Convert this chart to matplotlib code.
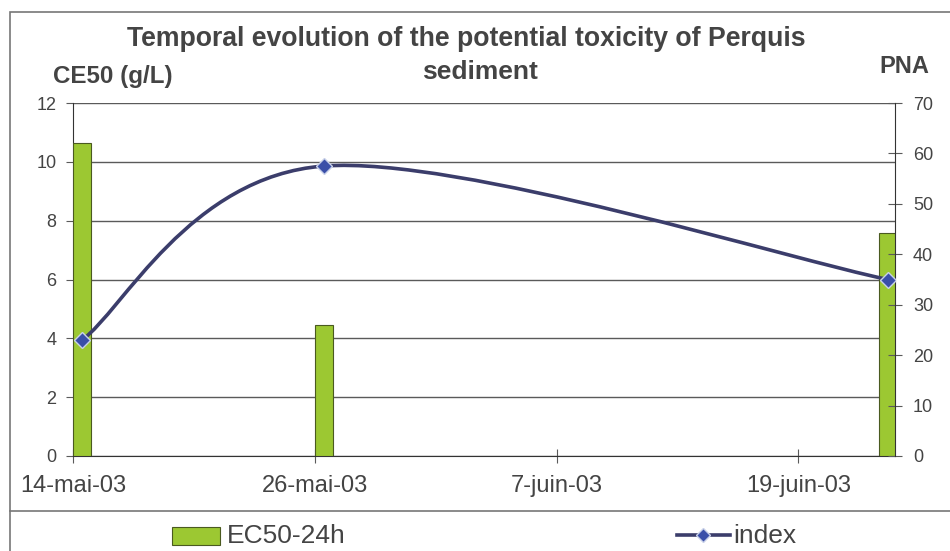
import datetime as dt
import matplotlib
matplotlib.use("Agg")
import matplotlib.pyplot as plt
import matplotlib.dates as mdates
from matplotlib.path import Path
from matplotlib.patches import PathPatch, Rectangle
from matplotlib.lines import Line2D
import numpy as np

plt.rcParams['font.family'] = ['Liberation Sans', 'DejaVu Sans']

# data
dates = [dt.date(2003, 5, 14), dt.date(2003, 5, 26), dt.date(2003, 6, 23)]
ec50 = [10.65, 4.45, 7.58]          # CE50 (g/L), left axis
index = [23, 57.5, 35]              # PNA, right axis
tick_dates = [dt.date(2003, 5, 14), dt.date(2003, 5, 26), dt.date(2003, 6, 7), dt.date(2003, 6, 19)]
tick_labels = ["14-mai-03", "26-mai-03", "7-juin-03", "19-juin-03"]

W, H = 950, 551
txt = "#444444"
grid_c = "#5a5a5a"
bar_c = "#9cc832"
line_c = "#3b3d6b"
mark_c = "#3a4fa8"


def fx(px):
    return px / W


def fy(py):
    return 1 - py / H


fig = plt.figure(figsize=(9.5, 5.51), dpi=100)
ax = fig.add_axes([fx(73), fy(456), (895 - 73) / W, (456 - 103) / H])
ax2 = ax.twinx()

# frame around the chart and legend separator
fig.add_artist(Rectangle((fx(10), -0.01), 1.0, fy(12) + 0.01, transform=fig.transFigure,
                         fill=False, lw=1.2, ec="#777777"))
fig.add_artist(Line2D([fx(10), 1], [fy(511)] * 2, transform=fig.transFigure, lw=1.2, color="#777777"))

x0 = mdates.date2num(dates[0])
xd = mdates.date2num(dates)
ax.bar(xd, ec50, width=0.9, align='edge', color=bar_c, edgecolor="#4a5a20", lw=0.8, zorder=3)

ax.set_xlim(x0, x0 + 40.8)
ax.set_ylim(0, 12)
ax.set_yticks(np.arange(0, 13, 2))
ax.yaxis.grid(True, color=grid_c, lw=1.0)
ax.set_axisbelow(True)
ax.set_xticks(mdates.date2num(tick_dates))
ax.set_xticklabels(tick_labels, fontsize=17, color=txt)
ax.tick_params(axis='x', direction='inout', length=10, color=grid_c, pad=9)
ax.tick_params(axis='y', direction='out', length=5, color=grid_c, labelsize=13, labelcolor=txt, pad=7)
ax.spines['top'].set_visible(False)
ax.spines['left'].set_color("#333333")
ax.spines['bottom'].set_color("#333333")
ax.spines['right'].set_visible(False)

ax2.set_ylim(0, 70)
ax2.set_yticks(np.arange(0, 71, 10))
ax2.tick_params(axis='y', direction='inout', length=10, color=grid_c, labelsize=13, labelcolor=txt, pad=8)
for s in ['top', 'left', 'bottom']:
    ax2.spines[s].set_visible(False)
ax2.spines['right'].set_color("#333333")

# smoothed line (Excel-style bezier through the points)
lx = xd + 0.45
pts = np.column_stack([lx, index])
verts = [tuple(pts[0])]
codes = [Path.MOVETO]
n = len(pts)
for i in range(n - 1):
    p_prev = pts[i - 1] if i > 0 else pts[i]
    p_next2 = pts[i + 2] if i + 2 < n else pts[i + 1]
    c1 = pts[i] + (pts[i + 1] - p_prev) / 6
    c2 = pts[i + 1] - (p_next2 - pts[i]) / 6
    verts += [tuple(c1), tuple(c2), tuple(pts[i + 1])]
    codes += [Path.CURVE4] * 3
ax2.add_patch(PathPatch(Path(verts, codes), fill=False, ec=line_c, lw=2.6, zorder=4))
ax2.plot(lx, index, ls='none', marker='D', ms=8, color=mark_c, mec="#c8d0e8", mew=1, zorder=5)

fig.text(fx(466), fy(46), "Temporal evolution of the potential toxicity of Perquis",
         ha='center', va='baseline', fontsize=19.2, fontweight='bold', color=txt)
fig.text(fx(480), fy(79), "sediment", ha='center', va='baseline', fontsize=19, fontweight='bold', color=txt)
fig.text(fx(53), fy(83), "CE50 (g/L)", ha='left', va='baseline', fontsize=17.4, fontweight='bold', color=txt)
fig.text(fx(929), fy(73), "PNA", ha='right', va='baseline', fontsize=17, fontweight='bold', color=txt)

# legend row
fig.add_artist(Rectangle((fx(172), fy(545)), 48 / W, 18 / H, transform=fig.transFigure,
                         fc=bar_c, ec="#4a5a20", lw=0.8))
fig.text(fx(227), fy(543), "EC50-24h", ha='left', va='baseline', fontsize=19, color=txt)
fig.add_artist(Line2D([fx(677), fx(730)], [fy(535)] * 2, transform=fig.transFigure,
                      lw=2.6, color=line_c))
fig.add_artist(Line2D([fx(703)], [fy(535)], transform=fig.transFigure, ls='none',
                      marker='D', ms=7, color=mark_c, mec="#c8d0e8"))
fig.text(fx(733), fy(543), "index", ha='left', va='baseline', fontsize=19, color=txt)

fig.savefig("out.png", dpi=100)
